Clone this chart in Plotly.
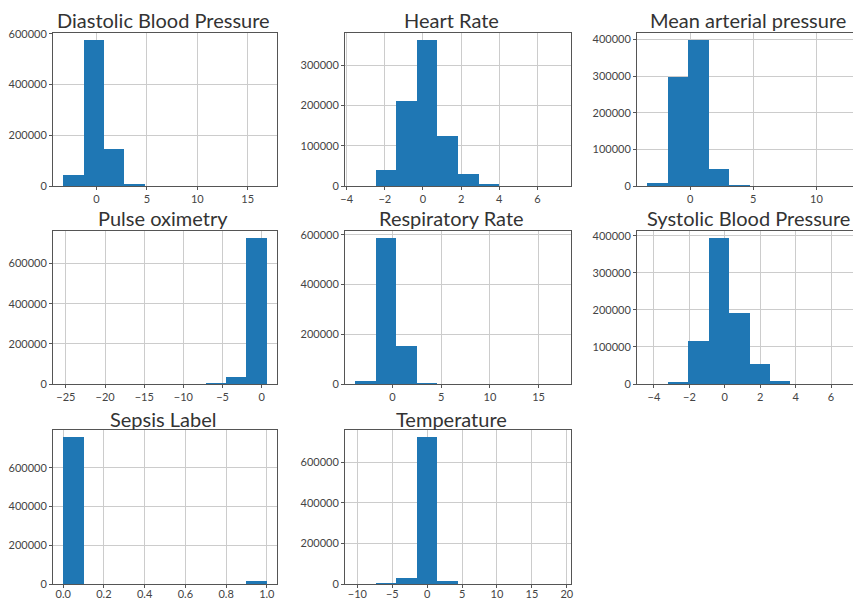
import numpy as np
import plotly.graph_objects as go

# ---- data ----
titles = ["Diastolic Blood Pressure", "Heart Rate", "Mean arterial pressure",
          "Pulse oximetry", "Respiratory Rate", "Systolic Blood Pressure",
          "Sepsis Label", "Temperature"]

diastolic_range = [-3.3, 16.9]
diastolic_counts = [42000, 575000, 145000, 6000, 0, 0, 0, 0, 0, 0]

heart_range = [-3.55, 7.22]
heart_counts = [0, 39000, 211000, 362000, 124000, 29000, 4000, 0, 0, 0]

map_range = [-3.4, 12.8]
map_counts = [7000, 298000, 398000, 46500, 2500, 0, 0, 0, 0, 0]

pulse_range = [-25.35, 0.65]
pulse_counts = [0, 0, 0, 0, 0, 0, 0, 2000, 33000, 726000]

resp_range = [-3.82, 17.27]
resp_counts = [13000, 586000, 154000, 4000, 0, 0, 0, 0, 0, 0]

systolic_range = [-4.38, 7.17]
systolic_counts = [0, 3000, 115000, 393000, 191000, 54000, 9000, 0, 0, 0]

sepsis_range = [0.0, 1.0]
sepsis_counts = [758000, 0, 0, 0, 0, 0, 0, 0, 0, 17000]

temp_range = [-10.3, 19.13]
temp_counts = [0, 2000, 28000, 722000, 13000, 0, 0, 0, 0, 0]

ranges = [diastolic_range, heart_range, map_range, pulse_range, resp_range,
          systolic_range, sepsis_range, temp_range]
counts = [diastolic_counts, heart_counts, map_counts, pulse_counts, resp_counts,
          systolic_counts, sepsis_counts, temp_counts]

x_dticks = [5, 2, 5, 5, 5, 2, 0.2, 5]
y_dticks = [200000, 100000, 100000, 200000, 200000, 100000, 200000, 200000]

# ---- layout geometry (pixels) ----
W, H = 853, 602
col_px = [(53, 277), (345, 571), (637, 862)]   # third column is cropped at the right edge
row_px = [(33, 186), (231, 384), (430, 584)]
title_cx = [163, 451, 748]
title_cy = [20, 218, 419]

BLUE = "#1f77b4"
TITLE_FONT = "Lato, Liberation Sans, Arial, sans-serif"
TICK_FONT = "Lato, Liberation Sans, Arial, sans-serif"

fig = go.Figure()
annotations = []
for i, (t, rng, cnt) in enumerate(zip(titles, ranges, counts)):
    r, c = divmod(i, 3)
    n = len(cnt)
    edges = np.linspace(rng[0], rng[1], n + 1)
    centers = (edges[:-1] + edges[1:]) / 2
    width = edges[1] - edges[0]
    ax = "" if i == 0 else str(i + 1)

    fig.add_trace(go.Bar(x=centers, y=cnt, width=[width] * n,
                         marker=dict(color=BLUE, line=dict(width=0)),
                         xaxis="x" + ax, yaxis="y" + ax, showlegend=False))

    span = rng[1] - rng[0]
    lo, hi = rng[0] - 0.05 * span, rng[1] + 0.05 * span
    x0, x1 = col_px[c]
    if x1 > W:
        frac = (W - x0) / (x1 - x0)
        hi = lo + (hi - lo) * frac
        x1 = W
    y0, y1 = row_px[r]
    xdom = [x0 / W, x1 / W]
    ydom = [1 - y1 / H, 1 - y0 / H]

    common = dict(showline=True, linecolor="#555555", linewidth=1,
                  showgrid=True, gridcolor="#cccccc", gridwidth=1,
                  ticks="outside", ticklen=3, tickcolor="#555555",
                  tickfont=dict(family=TICK_FONT, size=11, color="#444444"),
                  zeroline=False, automargin=False)
    fig.update_layout(**{
        "xaxis" + ax: dict(domain=xdom, range=[lo, hi], anchor="y" + ax,
                           dtick=x_dticks[i], tick0=0,
                           tickformat=".1f" if x_dticks[i] < 1 else "d",
                           ticklabelstandoff=-3 if r == 2 else 0,
                           mirror=True, **common),
        "yaxis" + ax: dict(domain=ydom, range=[0, 1.05 * max(cnt)], anchor="x" + ax,
                           dtick=y_dticks[i], tick0=0, tickformat="d",
                           mirror=(c != 2), **common),
    })
    annotations.append(dict(text=t, x=title_cx[c] / W, y=1 - title_cy[r] / H,
                            xref="paper", yref="paper", xanchor="center",
                            yanchor="middle", showarrow=False,
                            font=dict(family=TITLE_FONT, size=20, color="#333333")))

fig.update_layout(width=W, height=H, autosize=False,
                  margin=dict(l=0, r=0, t=0, b=0),
                  paper_bgcolor="white", plot_bgcolor="white",
                  bargap=0, annotations=annotations)

fig.write_html("out.html", config={"displayModeBar": False},
               post_script="document.body.style.margin='0';document.body.style.overflow='hidden';")
